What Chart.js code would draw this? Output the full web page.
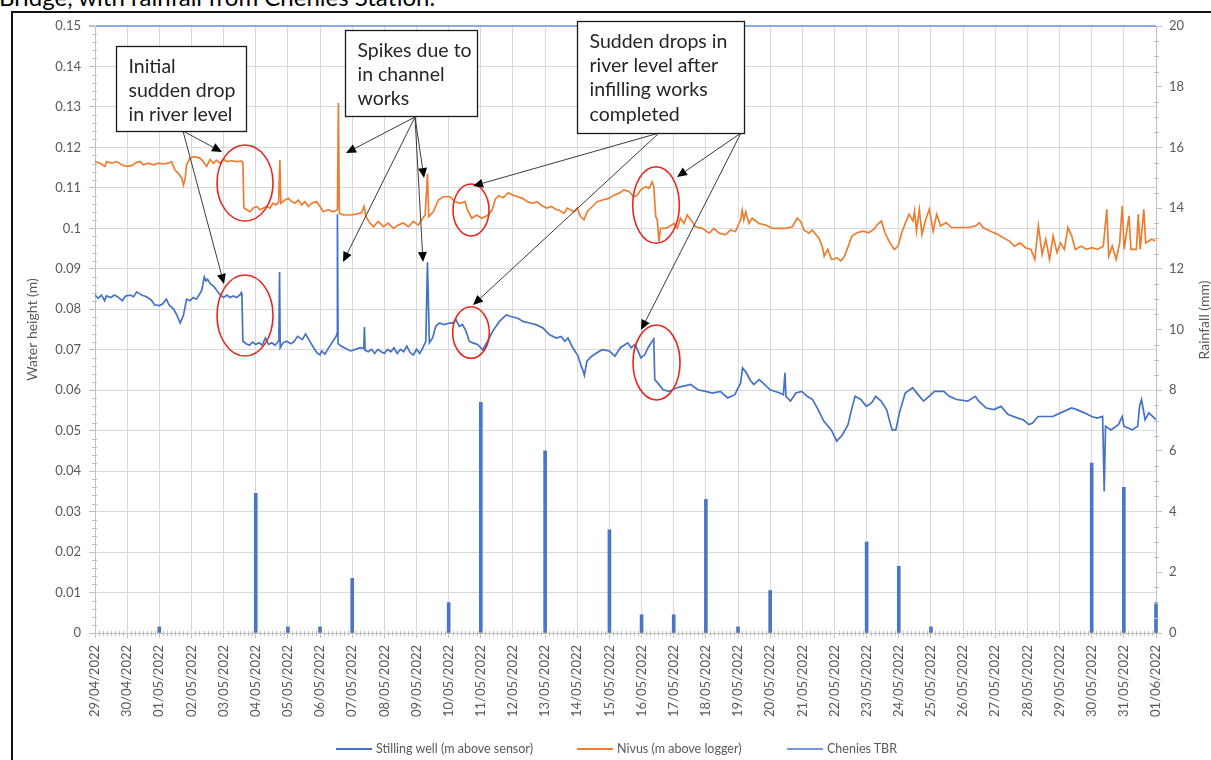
<!DOCTYPE html>
<html>
<head>
<meta charset="utf-8">
<script src="https://cdn.jsdelivr.net/npm/chart.js@4/dist/chart.umd.min.js"></script>
<style>
  html, body { margin: 0; padding: 0; background: #fff; width: 1211px; height: 760px; overflow: hidden;
               font-family: Lato, 'Open Sans', sans-serif; }
  #caption { position: absolute; left: -1px; top: -14.6px; font-size: 24px; line-height: 1; color: #000; white-space: nowrap; }
  #frame { position: absolute; left: 11px; top: 11px; width: 1300px; height: 900px; box-sizing: border-box;
           border-left: 2px solid #111; border-top: 2px solid #111; }
  #plot { position: absolute; left: 0; top: 0; }
  .key { position: absolute; top: 741px; height: 16px; line-height: 16px; font-size: 12.5px; color: #595959; white-space: nowrap; }
  .key i { display: inline-block; width: 36px; height: 2px; vertical-align: middle; margin-right: 4px; position: relative; top: -1px; }
</style>
</head>
<body>
<div id="caption">Bridge, with rainfall from Chenies Station.</div>
<div id="frame"></div>
<canvas id="plot" width="1211" height="760"></canvas>
<div class="key" style="left:336px"><i style="background:#4472C4"></i>Stilling well (m above sensor)</div>
<div class="key" style="left:577px"><i style="background:#ED7D31"></i>Nivus (m above logger)</div>
<div class="key" style="left:787px"><i style="background:#6F9BD8"></i>Chenies TBR</div>
<script>
// x values are days since 29/04/2022 00:00
const dateLabels = ['29/04/2022','30/04/2022','01/05/2022','02/05/2022','03/05/2022','04/05/2022','05/05/2022',
  '06/05/2022','07/05/2022','08/05/2022','09/05/2022','10/05/2022','11/05/2022','12/05/2022','13/05/2022',
  '14/05/2022','15/05/2022','16/05/2022','17/05/2022','18/05/2022','19/05/2022','20/05/2022','21/05/2022',
  '22/05/2022','23/05/2022','24/05/2022','25/05/2022','26/05/2022','27/05/2022','28/05/2022','29/05/2022',
  '30/05/2022','31/05/2022','01/06/2022'];

const heightTicks = [0,0.01,0.02,0.03,0.04,0.05,0.06,0.07,0.08,0.09,0.1,0.11,0.12,0.13,0.14,0.15];
const rainTicks = [0,2,4,6,8,10,12,14,16,18,20];

// Stilling well level (m above sensor): [day, metres]
const stillingWell = [
  [0,0.0835],[0.1,0.0827],[0.2,0.0835],[0.3,0.0821],[0.35,0.0833],[0.5,0.0829],[0.6,0.0835],[0.7,0.0831],
  [0.85,0.0821],[0.95,0.0833],[1.1,0.0835],[1.2,0.0831],[1.3,0.0843],[1.45,0.0835],[1.6,0.0831],[1.75,0.0823],
  [1.85,0.0811],[2.0,0.0809],[2.1,0.0813],[2.22,0.0825],[2.3,0.0811],[2.45,0.0800],[2.55,0.0785],[2.65,0.0766],
  [2.75,0.0785],[2.85,0.0825],[2.95,0.0821],[3.05,0.0829],[3.15,0.0825],[3.25,0.0837],[3.32,0.0847],[3.4,0.0880],
  [3.45,0.0870],[3.5,0.0874],[3.6,0.0862],[3.7,0.0856],[3.8,0.0845],[3.9,0.0835],[4.0,0.0829],[4.1,0.0835],
  [4.2,0.0829],[4.3,0.0833],[4.4,0.0829],[4.5,0.0835],[4.55,0.0841],[4.57,0.0833],[4.6,0.0721],[4.7,0.0715],
  [4.8,0.0711],[4.9,0.0719],[5.0,0.0713],[5.1,0.0717],[5.2,0.0711],[5.3,0.0729],[5.4,0.0713],[5.5,0.0717],
  [5.6,0.0711],[5.7,0.0721],[5.72,0.0737],[5.74,0.0892],[5.76,0.0705],[5.85,0.0717],[5.95,0.0721],[6.1,0.0715],
  [6.2,0.0721],[6.3,0.0733],[6.45,0.0725],[6.55,0.0739],[6.65,0.0725],[6.8,0.0705],[6.9,0.0693],[7.0,0.0687],
  [7.05,0.0697],[7.15,0.0689],[7.3,0.0709],[7.4,0.0721],[7.5,0.0733],[7.53,0.0741],[7.54,0.1035],[7.56,0.0715],
  [7.65,0.0709],[7.8,0.0703],[7.95,0.0697],[8.1,0.0701],[8.25,0.0705],[8.36,0.0703],[8.38,0.0756],[8.4,0.0699],
  [8.5,0.0695],[8.6,0.0701],[8.7,0.0691],[8.8,0.0701],[8.9,0.0695],[9.0,0.0691],[9.1,0.0701],[9.2,0.0695],
  [9.3,0.0705],[9.4,0.0691],[9.5,0.0701],[9.6,0.0695],[9.7,0.0709],[9.8,0.0693],[9.9,0.0687],[10.0,0.0701],
  [10.1,0.0691],[10.2,0.0705],[10.29,0.0721],[10.34,0.0916],[10.4,0.0717],[10.5,0.0729],[10.6,0.0758],[10.71,0.0766],
  [10.86,0.0762],[11.02,0.0766],[11.12,0.0766],[11.23,0.0774],[11.33,0.0758],[11.43,0.0762],[11.54,0.0746],[11.64,0.0721],
  [11.75,0.0717],[11.9,0.0713],[12.06,0.0700],[12.21,0.0721],[12.37,0.0746],[12.58,0.0770],[12.79,0.0786],[12.94,0.0782],
  [13.15,0.0778],[13.31,0.0770],[13.51,0.0766],[13.72,0.0762],[13.93,0.0754],[14.14,0.0737],[14.35,0.0729],[14.5,0.0733],
  [14.61,0.0721],[14.71,0.0729],[14.86,0.0705],[15.02,0.0685],[15.12,0.0660],[15.18,0.0648],[15.22,0.0637],[15.3,0.0672],
  [15.45,0.0684],[15.6,0.0692],[15.77,0.0700],[16.0,0.0697],[16.17,0.0684],[16.34,0.0705],[16.57,0.0717],[16.68,0.0705],
  [16.8,0.0713],[16.98,0.0680],[17.1,0.0688],[17.2,0.0705],[17.3,0.0717],[17.38,0.0726],[17.41,0.0626],[17.5,0.0618],
  [17.67,0.0601],[17.85,0.0597],[18.1,0.0606],[18.3,0.0610],[18.53,0.0614],[18.75,0.0601],[18.99,0.0597],[19.2,0.0593],
  [19.45,0.0597],[19.68,0.0581],[19.9,0.0589],[20.08,0.0618],[20.14,0.0655],[20.26,0.0643],[20.37,0.0626],[20.49,0.0614],
  [20.66,0.0626],[20.83,0.0614],[21.0,0.0601],[21.3,0.0593],[21.41,0.0589],[21.46,0.0643],[21.49,0.0585],[21.63,0.0573],
  [21.8,0.0593],[21.98,0.0597],[22.15,0.0585],[22.32,0.0577],[22.49,0.0552],[22.67,0.0523],[22.9,0.0502],[23.07,0.0474],
  [23.25,0.0490],[23.42,0.0515],[23.53,0.0552],[23.64,0.0585],[23.82,0.0577],[23.99,0.0560],[24.16,0.0569],[24.28,0.0585],
  [24.45,0.0573],[24.62,0.0552],[24.79,0.0502],[24.91,0.0502],[25.02,0.0544],[25.2,0.0593],[25.43,0.0606],[25.6,0.0589],
  [25.77,0.0573],[25.94,0.0585],[26.11,0.0597],[26.4,0.0597],[26.57,0.0585],[26.8,0.0577],[27.14,0.0573],[27.38,0.0585],
  [27.49,0.0573],[27.72,0.0556],[27.95,0.0552],[28.18,0.0560],[28.4,0.0540],[28.7,0.0531],[28.87,0.0527],[29.05,0.0515],
  [29.16,0.0519],[29.33,0.0535],[29.56,0.0535],[29.79,0.0535],[30.03,0.0544],[30.37,0.0556],[30.54,0.0552],[30.77,0.0544],
  [31.0,0.0535],[31.17,0.0531],[31.34,0.0535],[31.39,0.0350],[31.43,0.0511],[31.6,0.0502],[31.83,0.0515],[31.95,0.0535],
  [32.0,0.0511],[32.26,0.0502],[32.43,0.0511],[32.49,0.0560],[32.55,0.0577],[32.66,0.0527],[32.78,0.0544],[32.95,0.0531],
  [33.0,0.0527]
];

// Nivus level (m above logger): [day, metres]
const nivus = [
  [0,0.1165],[0.16,0.1161],[0.31,0.1153],[0.36,0.1165],[0.52,0.1161],[0.67,0.1165],[0.83,0.1157],[0.98,0.1153],
  [1.14,0.1155],[1.3,0.1163],[1.4,0.1165],[1.5,0.1157],[1.66,0.1161],[1.81,0.1157],[1.97,0.1161],[2.13,0.1159],
  [2.28,0.1161],[2.38,0.1165],[2.49,0.1144],[2.59,0.1136],[2.7,0.1124],[2.75,0.1107],[2.8,0.1120],[2.85,0.1157],
  [2.95,0.1173],[3.06,0.1177],[3.16,0.1176],[3.27,0.1173],[3.37,0.1165],[3.47,0.1153],[3.58,0.1170],[3.68,0.1161],
  [3.78,0.1168],[3.89,0.1161],[3.99,0.1171],[4.1,0.1165],[4.25,0.1167],[4.41,0.1165],[4.56,0.1166],[4.6,0.1163],
  [4.63,0.1050],[4.72,0.1046],[4.82,0.1041],[4.92,0.1050],[5.03,0.1054],[5.13,0.1046],[5.24,0.1050],[5.34,0.1054],
  [5.44,0.1050],[5.53,0.1062],[5.63,0.1058],[5.71,0.1064],[5.75,0.1169],[5.78,0.1062],[5.91,0.1070],[6.01,0.1074],
  [6.12,0.1066],[6.22,0.1062],[6.32,0.1070],[6.43,0.1058],[6.53,0.1066],[6.64,0.1054],[6.74,0.1062],[6.89,0.1066],
  [7.0,0.1054],[7.1,0.1041],[7.26,0.1046],[7.41,0.1041],[7.54,0.1046],[7.57,0.1310],[7.6,0.1037],[7.72,0.1033],
  [7.93,0.1033],[8.14,0.1035],[8.29,0.1039],[8.37,0.1054],[8.43,0.1029],[8.55,0.1013],[8.66,0.1004],[8.81,0.1017],
  [8.97,0.1004],[9.12,0.1013],[9.28,0.1000],[9.43,0.1008],[9.59,0.1013],[9.75,0.1004],[9.9,0.1017],[10.06,0.1008],
  [10.16,0.1021],[10.27,0.1033],[10.34,0.1135],[10.38,0.1029],[10.52,0.1041],[10.68,0.1070],[10.83,0.1078],[11.04,0.1078],
  [11.2,0.1066],[11.35,0.1062],[11.51,0.1066],[11.58,0.1046],[11.72,0.1025],[11.87,0.1033],[12.03,0.1025],[12.23,0.1033],
  [12.35,0.1045],[12.45,0.1072],[12.55,0.1080],[12.7,0.1076],[12.85,0.1088],[13.0,0.1082],[13.15,0.1078],[13.3,0.1074],
  [13.45,0.1066],[13.6,0.1062],[13.75,0.1066],[13.9,0.1056],[14.05,0.1050],[14.2,0.1054],[14.35,0.1046],[14.43,0.1045],
  [14.59,0.1037],[14.69,0.1050],[14.9,0.1041],[15.0,0.1050],[15.1,0.1029],[15.21,0.1021],[15.31,0.1041],[15.47,0.1054],
  [15.62,0.1066],[15.78,0.1070],[15.98,0.1074],[16.14,0.1082],[16.3,0.1087],[16.45,0.1095],[16.61,0.1091],[16.76,0.1078],
  [16.87,0.1082],[16.97,0.1095],[17.13,0.1103],[17.23,0.1099],[17.33,0.1115],[17.38,0.1103],[17.44,0.1029],[17.49,0.1021],
  [17.54,0.0967],[17.59,0.1000],[17.73,0.1000],[17.85,0.1004],[18.01,0.1012],[18.11,0.1000],[18.21,0.1025],[18.32,0.1012],
  [18.42,0.1033],[18.53,0.1021],[18.68,0.1004],[18.89,0.1000],[19.1,0.0988],[19.25,0.1000],[19.41,0.0988],[19.61,0.0984],
  [19.77,0.0996],[19.92,0.0992],[20.08,0.1021],[20.13,0.1045],[20.18,0.1021],[20.24,0.1041],[20.34,0.1012],[20.44,0.1025],
  [20.65,0.1012],[20.86,0.1008],[21.07,0.1000],[21.27,0.1000],[21.48,0.1000],[21.69,0.1004],[21.84,0.1025],[21.95,0.1017],
  [22.05,0.0996],[22.21,0.0988],[22.31,0.0996],[22.52,0.0975],[22.62,0.0955],[22.68,0.0931],[22.79,0.0948],[22.91,0.0923],
  [23.08,0.0927],[23.2,0.0919],[23.31,0.0931],[23.43,0.0956],[23.54,0.0981],[23.71,0.0989],[23.89,0.0993],[24.06,0.0989],
  [24.23,0.0998],[24.34,0.1010],[24.46,0.1018],[24.57,0.0989],[24.69,0.0969],[24.86,0.0948],[24.98,0.0956],[25.09,0.0989],
  [25.21,0.1014],[25.32,0.1035],[25.44,0.1018],[25.49,0.1043],[25.55,0.0993],[25.64,0.1047],[25.72,0.0985],[25.84,0.1022],
  [25.95,0.1047],[26.07,0.0993],[26.18,0.1035],[26.3,0.1006],[26.47,0.1014],[26.64,0.1002],[26.93,0.1002],[27.16,0.1002],
  [27.39,0.1006],[27.51,0.1014],[27.62,0.1002],[27.85,0.0993],[28.08,0.0985],[28.25,0.0977],[28.43,0.0969],[28.6,0.0956],
  [28.77,0.0964],[28.94,0.0952],[29.11,0.0948],[29.23,0.0923],[29.34,0.1006],[29.46,0.0936],[29.57,0.0973],[29.69,0.0923],
  [29.8,0.0981],[29.92,0.0940],[30.03,0.0964],[30.15,0.0948],[30.26,0.1002],[30.38,0.0981],[30.49,0.0948],[30.67,0.0956],
  [30.84,0.0948],[31.01,0.0952],[31.18,0.0948],[31.36,0.0956],[31.47,0.1047],[31.53,0.0931],[31.64,0.0956],[31.76,0.0923],
  [31.87,0.0964],[31.95,0.1055],[32.01,0.0948],[32.16,0.1031],[32.22,0.0948],[32.39,0.0948],[32.45,0.1035],[32.51,0.0948],
  [32.62,0.1047],[32.68,0.0964],[32.86,0.0973],[32.97,0.0969]
];

// Chenies tipping-bucket daily rainfall
const rainDays = [2, 5, 6, 7, 8, 11, 12, 14, 16, 17, 18, 19, 20, 21, 24, 25, 26, 31, 32, 33];
const rainMm   = [0.2, 4.6, 0.2, 0.2, 1.8, 1.0, 7.6, 6.0, 3.4, 0.6, 0.6, 4.4, 0.2, 1.4, 3.0, 2.2, 0.2, 5.6, 4.8, 1.0];

// Callout geometry, in axis units (days, metres)
const calloutBoxes = [
  { left: 0.653, right: 4.697, top: 0.14506, bottom: 0.12405, lines: ['Initial', 'sudden drop', 'in river level'] },
  { left: 7.776, right: 11.882, top: 0.14901, bottom: 0.12776, lines: ['Spikes due to', 'in channel', 'works'] },
  { left: 14.977, right: 20.187, top: 0.15124, bottom: 0.12356, lines: ['Sudden drops in', 'river level after', 'infilling works', 'completed'] }
];
const pointers = [
  { from: [2.737, 0.12405], to: [3.950, 0.11886] },
  { from: [2.737, 0.12405], to: [4.012, 0.08624] },
  { from: [9.953, 0.12751], to: [7.807, 0.11861] },
  { from: [9.953, 0.12751], to: [7.714, 0.09168] },
  { from: [9.953, 0.12751], to: [10.233, 0.11244] },
  { from: [9.953, 0.12751], to: [10.202, 0.09168] },
  { from: [17.543, 0.12356], to: [11.757, 0.11046] },
  { from: [17.543, 0.12356], to: [11.757, 0.08105] },
  { from: [20.093, 0.12356], to: [18.103, 0.11269] },
  { from: [20.093, 0.12356], to: [16.983, 0.07488] }
];
const rings = [
  { d: 4.666, v: 0.1112, rd: 0.871, rv: 0.00939 },
  { d: 4.666, v: 0.07846, rd: 0.871, rv: 0.01001 },
  { d: 11.695, v: 0.10453, rd: 0.56, rv: 0.00643 },
  { d: 11.695, v: 0.07426, rd: 0.57, rv: 0.00638 },
  { d: 17.45, v: 0.10576, rd: 0.725, rv: 0.00946 },
  { d: 17.465, v: 0.06684, rd: 0.731, rv: 0.00927 }
];

Chart.defaults.font.family = "Lato, 'Open Sans', sans-serif";
const AXIS_GREY = '#BFBFBF';
const LABEL_GREY = '#595959';

// minor tick marks along the three axes, plus the right-hand axis title
const minorTicks = {
  id: 'minorTicks',
  afterDraw(chart) {
    const { ctx, chartArea: a, scales: { x, y, y2 } } = chart;
    ctx.save();
    ctx.strokeStyle = AXIS_GREY;
    ctx.lineWidth = 1;
    ctx.beginPath();
    for (let k = 1; k < 33 * 8; k++) {
      if (k % 8 === 0) continue;
      const px = Math.round(x.getPixelForValue(k / 8)) + 0.5;
      ctx.moveTo(px, a.bottom - 2); ctx.lineTo(px, a.bottom + 3);
    }
    for (let k = 1; k < 75; k++) {
      if (k % 5 === 0) continue;
      const py = Math.round(y.getPixelForValue(k / 500)) + 0.5;
      ctx.moveTo(a.left - 3, py); ctx.lineTo(a.left + 2, py);
    }
    for (let k = 1; k < 40; k++) {
      if (k % 4 === 0) continue;
      const py = Math.round(y2.getPixelForValue(k / 2)) + 0.5;
      ctx.moveTo(a.right - 2, py); ctx.lineTo(a.right + 3, py);
    }
    ctx.stroke();

    ctx.fillStyle = LABEL_GREY;
    ctx.font = "14px Lato, 'Open Sans', sans-serif";
    ctx.textAlign = 'center';
    ctx.textBaseline = 'middle';
    ctx.translate(a.right + 48, 320);
    ctx.rotate(-Math.PI / 2);
    ctx.fillText('Rainfall (mm)', 0, 0);
    ctx.restore();
  }
};

// rings, pointer arrows and text boxes
const callouts = {
  id: 'callouts',
  afterDraw(chart) {
    const { ctx, scales: { x, y } } = chart;
    const X = d => x.getPixelForValue(d);
    const Y = v => y.getPixelForValue(v);
    ctx.save();

    ctx.strokeStyle = '#E8261E';
    ctx.lineWidth = 1.6;
    rings.forEach(r => {
      ctx.beginPath();
      ctx.ellipse(X(r.d), Y(r.v), X(r.d + r.rd) - X(r.d), Y(r.v) - Y(r.v + r.rv), 0, 0, Math.PI * 2);
      ctx.stroke();
    });

    pointers.forEach(p => {
      const x0 = X(p.from[0]), y0 = Y(p.from[1]);
      const x1 = X(p.to[0]), y1 = Y(p.to[1]);
      const ang = Math.atan2(y1 - y0, x1 - x0);
      const L = 10, W = 4.5;
      const bx = x1 - L * Math.cos(ang), by = y1 - L * Math.sin(ang);
      ctx.strokeStyle = '#3A3A3A';
      ctx.lineWidth = 1;
      ctx.beginPath(); ctx.moveTo(x0, y0); ctx.lineTo(bx, by); ctx.stroke();
      ctx.fillStyle = '#000';
      ctx.beginPath();
      ctx.moveTo(x1, y1);
      ctx.lineTo(bx - W * Math.sin(ang), by + W * Math.cos(ang));
      ctx.lineTo(bx + W * Math.sin(ang), by - W * Math.cos(ang));
      ctx.closePath(); ctx.fill();
    });

    calloutBoxes.forEach(b => {
      const l = Math.round(X(b.left)) + 0.5, r = Math.round(X(b.right)) + 0.5;
      const t = Math.round(Y(b.top)) + 0.5, btm = Math.round(Y(b.bottom)) + 0.5;
      ctx.fillStyle = '#fff';
      ctx.fillRect(l, t, r - l, btm - t);
      ctx.strokeStyle = '#1A1A1A';
      ctx.lineWidth = 1.3;
      ctx.strokeRect(l, t, r - l, btm - t);
      ctx.fillStyle = '#262626';
      ctx.font = "19.5px Lato, 'Open Sans', sans-serif";
      ctx.textAlign = 'left';
      ctx.textBaseline = 'middle';
      b.lines.forEach((s, i) => ctx.fillText(s, l + 12, t + 20 + i * 24.3));
    });
    ctx.restore();
  }
};

new Chart(document.getElementById('plot'), {
  data: {
    datasets: [
      {
        type: 'line', label: 'Stilling well (m above sensor)', yAxisID: 'y', order: 1,
        data: stillingWell.map(([d, v]) => ({ x: d, y: v })),
        borderColor: '#4472C4', borderWidth: 1.7, pointRadius: 0, tension: 0
      },
      {
        type: 'line', label: 'Nivus (m above logger)', yAxisID: 'y', order: 2,
        data: nivus.map(([d, v]) => ({ x: d, y: v })),
        borderColor: '#ED7D31', borderWidth: 1.7, pointRadius: 0, tension: 0
      },
      {
        type: 'bar', label: 'Chenies TBR', yAxisID: 'y2', order: 3, clip: 4,
        data: rainDays.map((d, i) => ({ x: d, y: rainMm[i] })),
        backgroundColor: '#4A76C6', barThickness: 3
      }
    ]
  },
  options: {
    responsive: false,
    animation: false,
    devicePixelRatio: 1,
    layout: { padding: { top: 26, left: 0, right: 0, bottom: 37 } },
    plugins: { legend: { display: false }, tooltip: { enabled: false } },
    scales: {
      x: {
        type: 'linear', min: 0, max: 33, offset: false,
        afterBuildTicks: s => { s.ticks = dateLabels.map((_, i) => ({ value: i })); },
        afterFit: s => { s.height = 90; },
        ticks: {
          autoSkip: false, maxRotation: 90, minRotation: 90, padding: 7,
          color: LABEL_GREY, font: { size: 13 },
          callback: v => dateLabels[v]
        },
        grid: { offset: false, color: '#D9D9D9', lineWidth: 1, tickLength: 5, tickColor: AXIS_GREY },
        border: { color: AXIS_GREY }
      },
      y: {
        position: 'left', min: 0, max: 0.15,
        afterBuildTicks: s => { s.ticks = heightTicks.map(v => ({ value: v })); },
        afterFit: s => { s.width = 95; },
        ticks: { padding: 8, color: LABEL_GREY, font: { size: 13 }, callback: v => String(v) },
        grid: {
          color: c => (c.tick && c.tick.value === 0.15) ? '#8FAADC' : '#D9D9D9',
          lineWidth: c => (c.tick && c.tick.value === 0.15) ? 2 : 1,
          tickLength: 6, tickColor: AXIS_GREY
        },
        border: { color: AXIS_GREY },
        title: { display: true, text: 'Water height (m)', color: LABEL_GREY, font: { size: 14 }, padding: { top: 24, bottom: 0 } }
      },
      y2: {
        position: 'right', min: 0, max: 20,
        afterBuildTicks: s => { s.ticks = rainTicks.map(v => ({ value: v })); },
        afterFit: s => { s.width = 55; },
        ticks: { padding: 7, color: LABEL_GREY, font: { size: 13 }, callback: v => String(v) },
        grid: { drawOnChartArea: false, tickLength: 6, tickColor: AXIS_GREY },
        border: { color: AXIS_GREY }
      }
    }
  },
  plugins: [minorTicks, callouts]
});
</script>
</body>
</html>
